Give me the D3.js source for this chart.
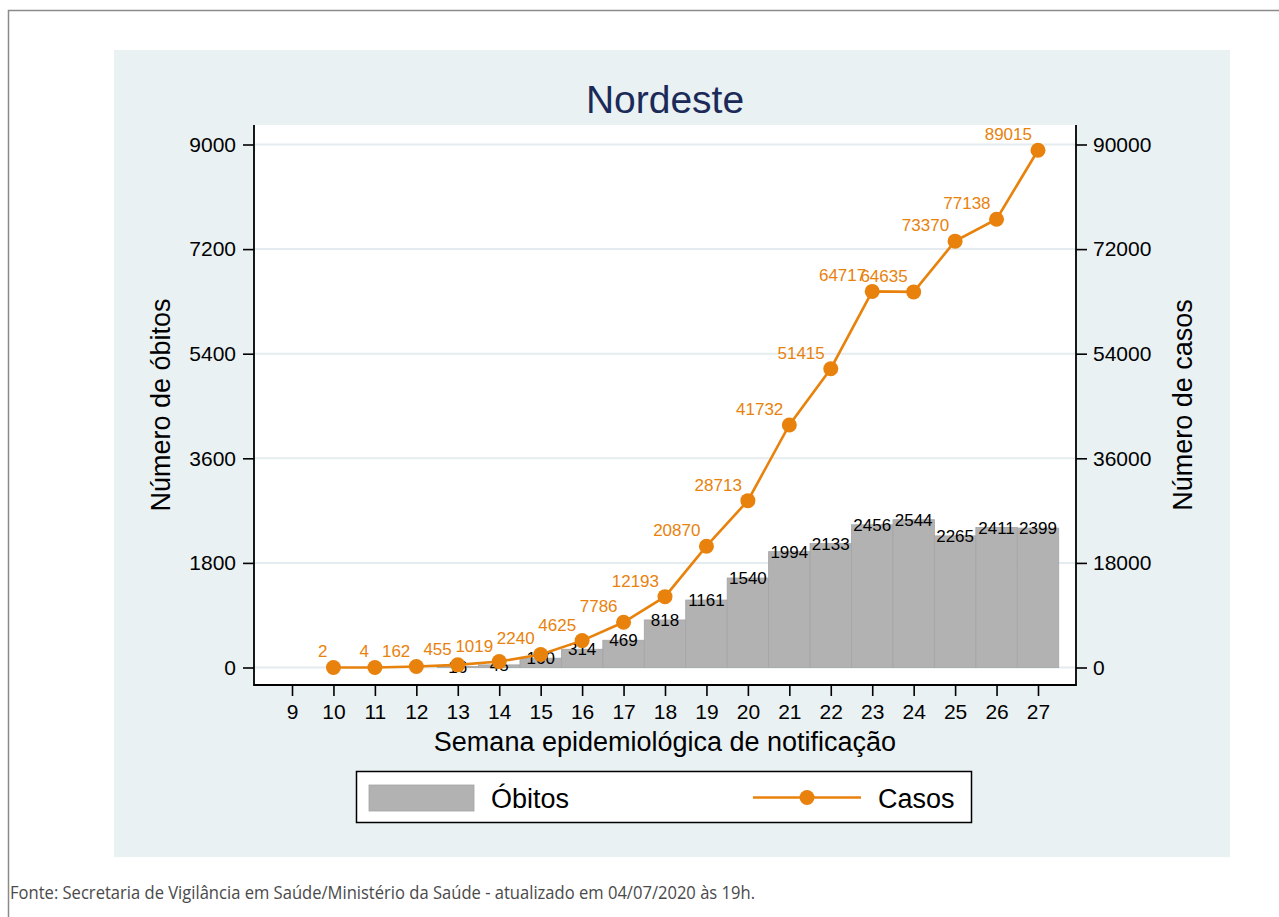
<!DOCTYPE html>
<html>
<head>
	<script src="https://d3js.org/d3.v7.min.js"></script>
	<style>
		html, body {
			padding: 0;
			margin: 0;
			background: #fff;
		}
		text { font-family: "Liberation Sans", Arial, sans-serif; }
	</style>
</head>
<body>
	<script>
		var W = 1279, H = 917;

		// ~ ~ ~ DATA ~ ~ ~
		const WEEK_TICKS = [9, 10, 11, 12, 13, 14, 15, 16, 17, 18, 19, 20, 21, 22, 23, 24, 25, 26, 27];
		const DEATH_WEEKS = [13, 14, 15, 16, 17, 18, 19, 20, 21, 22, 23, 24, 25, 26, 27];
		const DEATHS = [16, 45, 160, 314, 469, 818, 1161, 1540, 1994, 2133, 2456, 2544, 2265, 2411, 2399];
		const CASE_WEEKS = [10, 11, 12, 13, 14, 15, 16, 17, 18, 19, 20, 21, 22, 23, 24, 25, 26, 27];
		const CASES = [2, 4, 162, 455, 1019, 2240, 4625, 7786, 12193, 20870, 28713, 41732, 51415, 64717, 64635, 73370, 77138, 89015];
		const LEFT_TICKS = [0, 1800, 3600, 5400, 7200, 9000];
		const RIGHT_TICKS = [0, 18000, 36000, 54000, 72000, 90000];

		// ~ ~ ~ COLORS ~ ~ ~
		const PANEL_COLOR = "#e9f1f3";
		const GRID_COLOR = "#e4ecef";
		const BAR_COLOR = "#b2b2b2";
		const BAR_EDGE = "#a4a4a4";
		const ORANGE = "#e8820c";
		const TITLE_COLOR = "#1b2a58";

		// ~ ~ ~ GEOMETRY ~ ~ ~
		var plot = { left: 254, right: 1076, top: 125, bottom: 685 };

		var svg = d3.select("body").append("svg")
			.attr("width", W)
			.attr("height", H);

		// outer frame (top + left edges)
		svg.append("path")
			.attr("d", "M8.5," + H + " L8.5,10.5 L" + W + ",10.5")
			.attr("fill", "none")
			.attr("stroke", "#8a8a8a")
			.attr("stroke-width", 1.5);

		// grey-blue graph region
		svg.append("rect")
			.attr("x", 114).attr("y", 50)
			.attr("width", 1116).attr("height", 807)
			.attr("fill", PANEL_COLOR);

		// white plot region
		svg.append("rect")
			.attr("x", plot.left).attr("y", plot.top)
			.attr("width", plot.right - plot.left).attr("height", plot.bottom - plot.top)
			.attr("fill", "#fff");

		var x = d3.scaleLinear()
			.domain([9 - 0.917, 27 + 0.917])
			.range([plot.left, plot.right]);
		var yL = d3.scaleLinear().domain([0, 9000]).range([667.5, 144.5]);
		var yR = d3.scaleLinear().domain([0, 90000]).range([667.5, 144.5]);
		var bw = x(1) - x(0);

		// gridlines
		svg.append("g").selectAll("line")
			.data(LEFT_TICKS)
			.enter().append("line")
			.attr("x1", plot.left + 1).attr("x2", plot.right - 1)
			.attr("y1", d => yL(d)).attr("y2", d => yL(d))
			.attr("stroke", GRID_COLOR)
			.attr("stroke-width", 2);

		// bars (óbitos)
		var deathData = DEATH_WEEKS.map((w, i) => ({ w: w, v: DEATHS[i] }));
		svg.append("g").selectAll("rect")
			.data(deathData)
			.enter().append("rect")
			.attr("x", d => x(d.w) - bw / 2)
			.attr("width", bw)
			.attr("y", d => yL(d.v))
			.attr("height", d => yL(0) - yL(d.v))
			.attr("fill", BAR_COLOR)
			.attr("stroke", BAR_EDGE)
			.attr("stroke-width", 0.8);

		svg.append("g").selectAll("text")
			.data(deathData)
			.enter().append("text")
			.attr("x", d => x(d.w))
			.attr("y", d => yL(d.v))
			.attr("dy", "0.36em")
			.attr("text-anchor", "middle")
			.attr("font-size", 17)
			.attr("fill", "#000")
			.text(d => d.v);

		// line (casos)
		var caseData = CASE_WEEKS.map((w, i) => ({ w: w, v: CASES[i] }));
		svg.append("path")
			.datum(caseData)
			.attr("d", d3.line().x(d => x(d.w)).y(d => yR(d.v)))
			.attr("fill", "none")
			.attr("stroke", ORANGE)
			.attr("stroke-width", 2.6);

		svg.append("g").selectAll("circle")
			.data(caseData)
			.enter().append("circle")
			.attr("cx", d => x(d.w))
			.attr("cy", d => yR(d.v))
			.attr("r", 7.5)
			.attr("fill", ORANGE);

		svg.append("g").selectAll("text")
			.data(caseData)
			.enter().append("text")
			.attr("x", d => x(d.w) - 6)
			.attr("y", d => yR(d.v) - 10)
			.attr("text-anchor", "end")
			.attr("font-size", 17)
			.attr("fill", ORANGE)
			.text(d => d.v);

		// axes
		var styleAxis = function(g) {
			g.select(".domain").remove();
			g.selectAll(".tick line").attr("stroke", "#000").attr("stroke-width", 1.6);
			g.selectAll(".tick text").attr("font-size", 21).attr("fill", "#000")
				.attr("font-family", "Liberation Sans, Arial, sans-serif");
		};

		svg.append("g")
			.attr("transform", "translate(" + plot.left + ",0)")
			.call(d3.axisLeft(yL).tickValues(LEFT_TICKS).tickSize(11).tickPadding(7).tickFormat(d3.format("d")))
			.call(styleAxis);

		svg.append("g")
			.attr("transform", "translate(" + plot.right + ",0)")
			.call(d3.axisRight(yR).tickValues(RIGHT_TICKS).tickSize(11).tickPadding(6).tickFormat(d3.format("d")))
			.call(styleAxis);

		svg.append("g")
			.attr("transform", "translate(0," + plot.bottom + ")")
			.call(d3.axisBottom(x).tickValues(WEEK_TICKS).tickSize(11).tickPadding(8).tickFormat(d3.format("d")))
			.call(styleAxis);

		// plot frame: left, bottom, right
		svg.append("path")
			.attr("d", "M" + plot.left + "," + plot.top + " V" + plot.bottom + " H" + plot.right + " V" + plot.top)
			.attr("fill", "none")
			.attr("stroke", "#000")
			.attr("stroke-width", 1.8);

		// titles
		svg.append("text")
			.attr("x", 665).attr("y", 113)
			.attr("text-anchor", "middle")
			.attr("font-size", 39)
			.attr("fill", TITLE_COLOR)
			.text("Nordeste");

		svg.append("text")
			.attr("x", 665).attr("y", 751)
			.attr("text-anchor", "middle")
			.attr("font-size", 27)
			.text("Semana epidemiológica de notificação");

		svg.append("text")
			.attr("transform", "translate(170,405) rotate(-90)")
			.attr("text-anchor", "middle")
			.attr("font-size", 27)
			.text("Número de óbitos");

		svg.append("text")
			.attr("transform", "translate(1192,405) rotate(-90)")
			.attr("text-anchor", "middle")
			.attr("font-size", 27)
			.text("Número de casos");

		// legend
		var lg = svg.append("g");
		lg.append("rect")
			.attr("x", 356.5).attr("y", 771.5)
			.attr("width", 615).attr("height", 51)
			.attr("fill", "#fff")
			.attr("stroke", "#000")
			.attr("stroke-width", 1.5);
		lg.append("rect")
			.attr("x", 369).attr("y", 785)
			.attr("width", 105).attr("height", 26)
			.attr("fill", BAR_COLOR)
			.attr("stroke", BAR_EDGE)
			.attr("stroke-width", 0.8);
		lg.append("text")
			.attr("x", 491).attr("y", 808)
			.attr("font-size", 27)
			.text("Óbitos");
		lg.append("line")
			.attr("x1", 753).attr("x2", 861)
			.attr("y1", 797.5).attr("y2", 797.5)
			.attr("stroke", ORANGE)
			.attr("stroke-width", 2.6);
		lg.append("circle")
			.attr("cx", 807).attr("cy", 797.5).attr("r", 7.5)
			.attr("fill", ORANGE);
		lg.append("text")
			.attr("x", 878).attr("y", 808)
			.attr("font-size", 27)
			.text("Casos");

		// source note
		svg.append("text")
			.attr("x", 10).attr("y", 899)
			.attr("font-size", 18)
			.attr("fill", "#4a4a4a")
			.attr("textLength", 745)
			.attr("lengthAdjust", "spacingAndGlyphs")
			.style("font-family", "'Liberation Sans Narrow', 'Open Sans', sans-serif")
			.text("Fonte: Secretaria de Vigilância em Saúde/Ministério da Saúde - atualizado em 04/07/2020 às 19h.");
	</script>
</body>
</html>
